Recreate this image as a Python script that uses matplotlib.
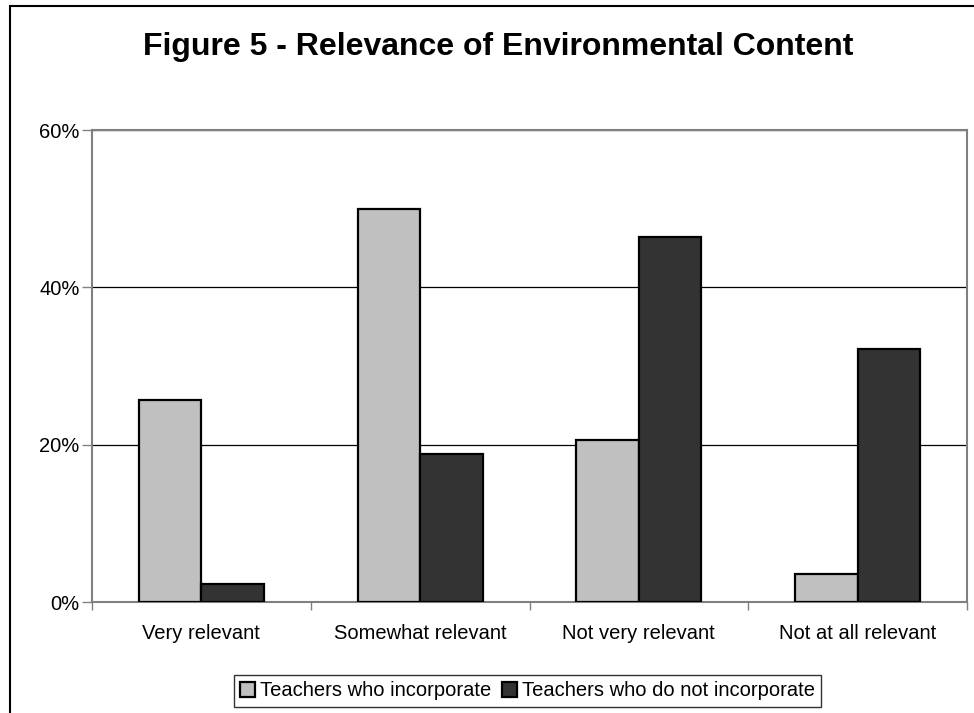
import matplotlib
matplotlib.use("Agg")
import matplotlib.pyplot as plt
import numpy as np
from matplotlib.patches import Rectangle

categories = ["Very relevant", "Somewhat relevant", "Not very relevant", "Not at all relevant"]
incorporate = [25.7, 50.0, 20.6, 3.5]
not_incorporate = [2.3, 18.8, 46.4, 32.2]
series_names = ["Teachers who incorporate", "Teachers who do not incorporate"]
yticks = [0, 20, 40, 60]

plt.rcParams['font.family'] = ['Liberation Sans', 'DejaVu Sans']

W, H = 974, 713
fig = plt.figure(figsize=(W / 100, H / 100), dpi=100)
fig.patch.set_facecolor("white")

# outer chart border
fig.patches.append(Rectangle((10 / W, -0.05), 1.2, 1 - 6 / H + 0.05, transform=fig.transFigure,
                             fill=False, edgecolor="black", linewidth=1.5, zorder=0))

left, right, top, bottom = 92, 967, 130, 602
ax = fig.add_axes([left / W, 1 - bottom / H, (right - left) / W, (bottom - top) / H])

x = np.arange(len(categories))
w = 0.2857
ax.bar(x - w / 2, incorporate, width=w, color="#c0c0c0", edgecolor="black", linewidth=1.6,
       label=series_names[0], zorder=3)
ax.bar(x + w / 2, not_incorporate, width=w, color="#333333", edgecolor="black", linewidth=1.6,
       label=series_names[1], zorder=3)

ax.set_xlim(-0.5, len(categories) - 0.5)
ax.set_ylim(0, 60)
ax.set_yticks(yticks)
ax.set_yticklabels([f"{v}%" for v in yticks], fontsize=14.5)
ax.yaxis.grid(True, color="black", linewidth=0.9, zorder=0)
ax.set_axisbelow(True)

ax.set_xticks(x)
ax.set_xticklabels(categories, fontsize=14.5)
ax.tick_params(axis="x", length=0, pad=16)
ax.set_xticks(np.arange(len(categories) + 1) - 0.5, minor=True)
ax.tick_params(axis="x", which="minor", length=6, width=1, color="#808080")
ax.tick_params(axis="y", length=7, width=1, color="#808080", pad=2)

for s in ax.spines.values():
    s.set_color("#808080")
    s.set_linewidth(1.5)

fig.text(498.5 / W, 1 - 47 / H, "Figure 5 - Relevance of Environmental Content", ha="center", va="center",
         fontsize=23, fontweight="bold")

leg = fig.legend(loc="center", bbox_to_anchor=(527.5 / W, 1 - 691 / H), ncol=2, fontsize=14.5,
                 frameon=True, fancybox=False, edgecolor="black", handlelength=0.75, handleheight=0.75,
                 handletextpad=0.25, columnspacing=0.5, borderpad=0.3, borderaxespad=0)
leg.get_frame().set_linewidth(1.0)

fig.savefig("out.png", dpi=100)
